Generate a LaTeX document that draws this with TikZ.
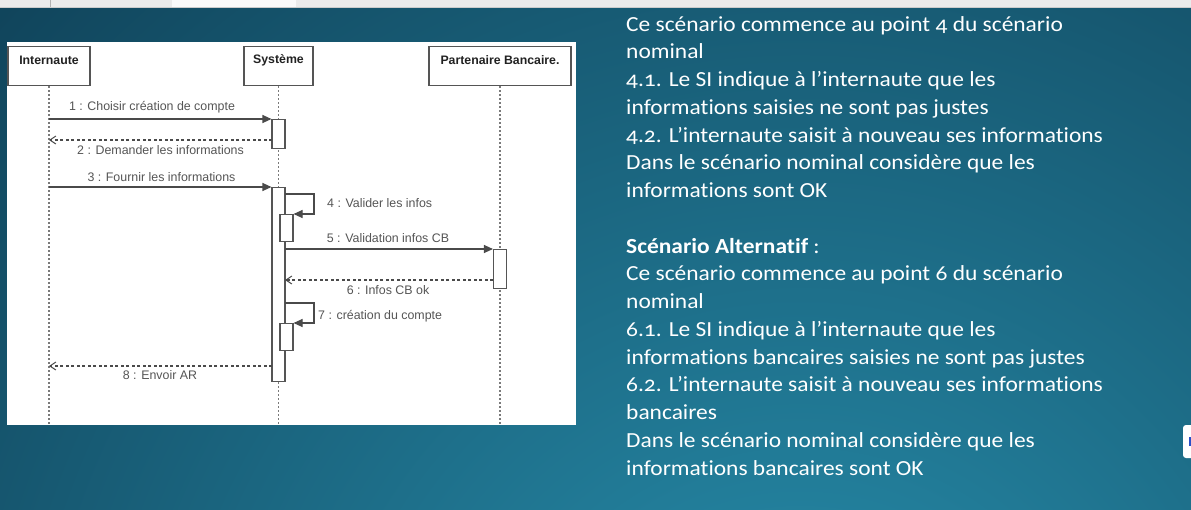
\documentclass[tikz,border=0pt]{standalone}
\usepackage{fontspec}
\setmainfont{Carlito}[Numbers=OldStyle, FakeStretch=1.09,
  Ligatures={NoCommon,NoRequired,NoContextual}, Contextuals=NoAlternate]
\newfontfamily\diagfont{Liberation Sans}
\usetikzlibrary{arrows.meta}

\definecolor{bgdark}{HTML}{0D3A50}
\definecolor{bglight}{HTML}{2890AE}
\definecolor{barcol}{HTML}{EBEBEB}
\definecolor{tabcol}{HTML}{FAFAFA}
\definecolor{boxgray}{HTML}{555555}
\definecolor{linegray}{HTML}{4A4A4A}
\definecolor{lifegray}{HTML}{7A7A7A}
\definecolor{headcol}{HTML}{222222}
\definecolor{lblcol}{HTML}{555555}
\definecolor{widgetblue}{HTML}{2A4FC8}

\tikzset{
  lifebox/.style={draw=boxgray, line width=1.2pt, fill=white, minimum height=39pt, inner sep=0pt},
  head/.style={font=\diagfont\bfseries\fontsize{12.3}{14}\selectfont, text=headcol, inner sep=0pt},
  lifeline/.style={draw=lifegray, line width=1.1pt, dash pattern=on 2pt off 2pt},
  actbox/.style={draw=boxgray, line width=1.1pt, fill=white, minimum width=13pt, inner sep=0pt, anchor=north},
  call/.style={draw=linegray, line width=1.1pt, -{Triangle[length=9pt,width=8pt]}},
  reply/.style={draw=linegray, line width=1.1pt, dash pattern=on 3pt off 2.5pt,
                -{Straight Barb[length=6pt,width=8pt,line width=1pt]}},
  selfcall/.style={draw=linegray, line width=1.1pt, -{Triangle[length=9pt,width=8pt]}},
  lbl/.style={font=\diagfont\fontsize{12.4}{14}\selectfont, text=lblcol, inner sep=0pt},
  slide/.style={font=\fontsize{21.5}{27}\selectfont, text=white, anchor=base west, inner sep=0pt},
}
\newcommand\slideline[3]{\node[slide] (#1) at (626,{31+#2*27.75}) {#3};}

\begin{document}
\begin{tikzpicture}[x=1pt,y=-1pt]
\useasboundingbox (0,0) rectangle (1191,509);

% slide background
\fill[bgdark] (0,0) rectangle (1191,509);
\begin{scope}
  \clip (0,7) rectangle (1191,509);
  \shade[inner color=bglight, outer color=bgdark] (800,760) circle [radius=1250pt];
\end{scope}

% browser tab strip
\fill[barcol] (0,0) rectangle (1191,7);
\fill[tabcol] (172,0) rectangle (296,7);
\draw[gray!60, line width=0.6pt] (50,0) -- (50,7);
\draw[gray!40, line width=0.5pt] (0,7) -- (1191,7);

% side widget
\fill[white, rounded corners=3pt] (1183,425) rectangle (1196,458);
\fill[widgetblue] (1188.5,437) rectangle (1191,446);

% ---------- sequence diagram ----------
\fill[white] (7,42) rectangle (576,425);

% participants
\node[lifebox, minimum width=82pt] (inet) at (49,66) {};
\node[lifebox, minimum width=69pt] (sys) at (278.5,66) {};
\node[lifebox, minimum width=142pt] (bank) at (500,66) {};
\node[head] (inetT) at ([yshift=6pt]inet.center) {Internaute};
\node[head] (sysT) at ([yshift=6pt]sys.center) {Système};
\node[head] (bankT) at ([yshift=6pt]bank.center) {Partenaire Bancaire.};

% lifelines
\coordinate (inetEnd) at (49,424);
\coordinate (sysEnd) at (278.5,424);
\coordinate (bankEnd) at (500,424);
\draw[lifeline] (inet.south) -- (inetEnd);
\draw[lifeline] (sys.south) -- (sysEnd);
\draw[lifeline] (bank.south) -- (bankEnd);

% activations
\node[actbox, minimum height=29pt] (act1) at (278.5,119) {};
\node[actbox, minimum height=194pt] (act2) at (278.5,187) {};
\node[actbox, minimum height=27pt] (nest1) at (286.5,214) {};
\node[actbox, minimum height=27pt] (nest2) at (286.5,323) {};
\node[actbox, minimum height=39pt] (act3) at (500,249) {};

% message end points
\coordinate (i1) at (49,119);
\coordinate (i2) at (49,140);
\coordinate (i3) at (49,187);
\coordinate (i8) at (49,366);
\coordinate (s2) at (272,140);
\coordinate (s4a) at (285,194);
\coordinate (s4b) at (314,194);
\coordinate (s4c) at (314,214);
\coordinate (s5) at (285,249);
\coordinate (s6) at (285,280);
\coordinate (b6) at (493,280);
\coordinate (s7a) at (285,303);
\coordinate (s7b) at (314,303);
\coordinate (s7c) at (314,323);
\coordinate (s8) at (272,366);

% messages
\draw[call] (i1) -- (act1.north west);
\draw[reply] (s2) -- (i2);
\draw[call] (i3) -- (act2.north west);
\draw[selfcall] (s4a) -- (s4b) -- (s4c) -- (nest1.north east);
\draw[call] (s5) -- (act3.north west);
\draw[reply] (b6) -- (s6);
\draw[selfcall] (s7a) -- (s7b) -- (s7c) -- (nest2.north east);
\draw[reply] (s8) -- (i8);

% message labels
\node[lbl] (l1) at (152,107) {1 : Choisir création de compte};
\node[lbl] (l2) at (160.5,150) {2 : Demander les informations};
\node[lbl] (l3) at (161.5,177) {3 : Fournir les informations};
\node[lbl, anchor=west] (l4) at (327,203) {4 : Valider les infos};
\node[lbl] (l5) at (388,238) {5 : Validation infos CB};
\node[lbl] (l6) at (388,290) {6 : Infos CB ok};
\node[lbl, anchor=west] (l7) at (318,316) {7 : création du compte};
\node[lbl] (l8) at (160,375) {8 : Envoir AR};

% ---------- slide text ----------
\slideline{t1}{0}{Ce scénario commence au point 4 du scénario}
\slideline{t2}{1}{nominal}
\slideline{t3}{2}{4.1. Le SI indique à l’internaute que les}
\slideline{t4}{3}{informations saisies ne sont pas justes}
\slideline{t5}{4}{4.2. L’internaute saisit à nouveau ses informations}
\slideline{t6}{5}{Dans le scénario nominal considère que les}
\slideline{t7}{6}{informations sont OK}
\slideline{t9}{8}{\textbf{Scénario Alternatif} :}
\slideline{t10}{9}{Ce scénario commence au point 6 du scénario}
\slideline{t11}{10}{nominal}
\slideline{t12}{11}{6.1. Le SI indique à l’internaute que les}
\slideline{t13}{12}{informations bancaires saisies ne sont pas justes}
\slideline{t14}{13}{6.2. L’internaute saisit à nouveau ses informations}
\slideline{t15}{14}{bancaires}
\slideline{t16}{15}{Dans le scénario nominal considère que les}
\slideline{t17}{16}{informations bancaires sont OK}
\end{tikzpicture}
\end{document}
